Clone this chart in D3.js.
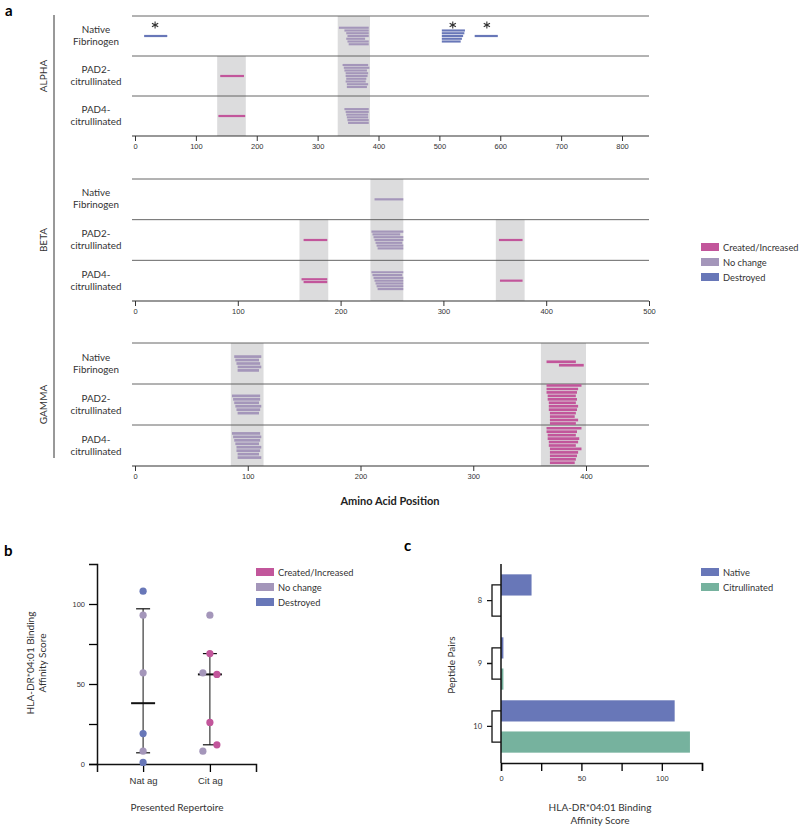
<!DOCTYPE html>
<html lang="en">
<head>
<meta charset="utf-8">
<title>Fibrinogen peptides</title>
<script src="https://d3js.org/d3.v7.min.js"></script>
<style>
  body { margin: 0; background: #fff; }
  svg { font-family: Lato, "Open Sans", sans-serif; }
  .tick text { font-size: 7.5px; fill: #333; }
</style>
</head>
<body>
<div id="chart"></div>
<script>
// ---- data ----
const statusNames = ["Created/Increased", "No change", "Destroyed"];
const statusColors = ["#c2569b", "#a496ba", "#6877b8"];
const rowLabels = [["Native", "Fibrinogen"], ["PAD2-", "citrullinated"], ["PAD4-", "citrullinated"]];

// peptides: [row, start, end, status]  status 0 created, 1 no change, 2 destroyed
const alphaTicks = [0, 100, 200, 300, 400, 500, 600, 700, 800];
const alphaBands = [[135, 182, 1], [333, 386, 0]];
const alphaStars = [33, 522, 578];
const alphaPeptides = [
  [0, 15, 53, 2],
  [0, 335, 384, 1], [0, 344, 384, 1], [0, 347, 384, 1], [0, 349, 384, 1], [0, 347, 378, 1], [0, 349, 384, 1], [0, 351, 384, 1],
  [0, 504, 542, 2], [0, 504, 541, 2], [0, 504, 539, 2], [0, 504, 537, 2], [0, 504, 535, 2],
  [0, 558, 596, 2],
  [1, 140, 179, 0],
  [1, 341, 383, 1], [1, 343, 385, 1], [1, 344, 381, 1], [1, 346, 383, 1], [1, 346, 382, 1], [1, 347, 380, 1], [1, 346, 379, 1], [1, 348, 383, 1], [1, 348, 381, 1],
  [2, 137, 181, 0],
  [2, 344, 384, 1], [2, 346, 384, 1], [2, 347, 383, 1], [2, 348, 383, 1], [2, 349, 384, 1], [2, 350, 384, 1]
];

const betaTicks = [0, 100, 200, 300, 400, 500];
const betaBands = [[160, 188, 1], [229, 261, 0], [351, 379, 1]];
const betaStars = [];
const betaPeptides = [
  [0, 233, 261, 1],
  [1, 164, 187, 0],
  [1, 230, 261, 1], [1, 231, 258, 1], [1, 232, 261, 1], [1, 233, 261, 1], [1, 234, 260, 1], [1, 235, 261, 1], [1, 236, 261, 1],
  [1, 354, 377, 0],
  [2, 162, 187, 0], [2, 164, 187, 0],
  [2, 230, 261, 1], [2, 231, 260, 1], [2, 232, 261, 1], [2, 233, 261, 1], [2, 234, 261, 1], [2, 235, 261, 1], [2, 236, 261, 1],
  [2, 355, 377, 0]
];

const gammaTicks = [0, 100, 200, 300, 400];
const gammaBands = [[85, 114, 0], [360, 400, 0]];
const gammaStars = [];
const gammaPeptides = [
  [0, 88, 112, 1], [0, 89, 110, 1], [0, 90, 111, 1], [0, 91, 112, 1], [0, 91, 110, 1],
  [0, 365, 391, 0], [0, 376, 398, 0],
  [1, 86, 111, 1], [1, 87, 111, 1], [1, 88, 110, 1], [1, 89, 112, 1], [1, 90, 111, 1], [1, 91, 110, 1],
  [1, 365, 396, 0], [1, 365, 393, 0], [1, 365, 392, 0], [1, 366, 391, 0], [1, 366, 392, 0], [1, 367, 391, 0],
  [1, 367, 393, 0], [1, 367, 392, 0], [1, 368, 391, 0], [1, 368, 390, 0], [1, 368, 393, 0], [1, 368, 391, 0],
  [2, 86, 111, 1], [2, 87, 112, 1], [2, 88, 111, 1], [2, 89, 110, 1], [2, 90, 112, 1], [2, 90, 111, 1], [2, 91, 110, 1], [2, 91, 112, 1],
  [2, 365, 396, 0], [2, 365, 392, 0], [2, 366, 391, 0], [2, 366, 394, 0], [2, 367, 393, 0], [2, 367, 391, 0],
  [2, 368, 396, 0], [2, 368, 393, 0], [2, 368, 392, 0], [2, 368, 391, 0], [2, 368, 390, 0]
];

// panel b
const bCategories = ["Nat ag", "Cit ag"];
const natValues = [108, 93, 57, 19, 8, 1];
const natStatus = [2, 1, 1, 2, 1, 2];
const citValues = [93, 69, 57, 56, 26, 8, 12];
const citStatus = [1, 0, 1, 0, 0, 1, 0];
const bMedian = [38, 56];
const bLow = [7, 12];
const bHigh = [97, 69];
const bTicks = [0, 25, 50, 75, 100];

// panel c
const cPairs = ["8", "9", "10"];
const cNative = [19, 1.5, 108];
const cCitrullinated = [0, 1.5, 117.5];
const cTicks = [0, 25, 50, 75, 100, 125];
const cSeriesNames = ["Native", "Citrullinated"];
const cSeriesColors = ["#6877b8", "#76b29e"];

// ---- drawing ----
const svg = d3.select("#chart").append("svg")
  .attr("width", 799).attr("height", 827);

svg.append("text").attr("x", 5).attr("y", 16)
  .style("font-size", "15px").style("font-weight", "bold").text("a");

const chains = [
  {name: "ALPHA", peptides: alphaPeptides, bands: alphaBands, ticks: alphaTicks, stars: alphaStars, top: 16, axisY: 136, xMax: 622, gap: 2.75},
  {name: "BETA", peptides: betaPeptides, bands: betaBands, ticks: betaTicks, stars: betaStars, top: 179, axisY: 301, xMax: 649, gap: 2.8},
  {name: "GAMMA", peptides: gammaPeptides, bands: gammaBands, ticks: gammaTicks, stars: gammaStars, top: 343, axisY: 466, xMax: 586, gap: 3.45}
];

let drawChain = (c) => {
  const g = svg.append("g");
  const x = d3.scaleLinear().domain([0, d3.max(c.ticks)]).range([135, c.xMax]);
  const rowH = (c.axisY - c.top) / 3;

  // grey bands
  g.selectAll(".band").data(c.bands).enter().append("rect")
    .attr("x", d => x(d[0]))
    .attr("width", d => x(d[1]) - x(d[0]))
    .attr("y", d => c.top + d[2] * rowH)
    .attr("height", d => c.axisY - (c.top + d[2] * rowH))
    .attr("fill", "#dcdcdd");

  // row lines
  [0, 1, 2].forEach(i => {
    g.append("line").attr("x1", 132).attr("x2", 649)
      .attr("y1", c.top + i * rowH).attr("y2", c.top + i * rowH)
      .attr("stroke", "#555").attr("stroke-width", 0.9);
  });

  // row labels
  rowLabels.forEach((lab, i) => {
    const cy = c.top + (i + 0.5) * rowH;
    g.append("text").attr("x", 96).attr("y", cy - 3).attr("text-anchor", "middle")
      .style("font-size", "9.8px").attr("fill", "#333").text(lab[0]);
    g.append("text").attr("x", 96).attr("y", cy + 9).attr("text-anchor", "middle")
      .style("font-size", "9.8px").attr("fill", "#333").text(lab[1]);
  });

  // chain label
  g.append("text")
    .attr("transform", `translate(47,${(c.top + c.axisY) / 2}) rotate(-90)`)
    .attr("text-anchor", "middle").style("font-size", "10px").attr("fill", "#333")
    .text(c.name);

  // group overlapping peptides into stacks
  const clusters = [];
  c.peptides.forEach(p => {
    let cl = clusters.find(k => k.row === p[0] && p[1] < k.end && p[2] > k.start);
    if (!cl) { cl = {row: p[0], start: p[1], end: p[2], items: []}; clusters.push(cl); }
    cl.start = Math.min(cl.start, p[1]);
    cl.end = Math.max(cl.end, p[2]);
    cl.items.push(p);
  });
  clusters.forEach(cl => {
    const cy = c.top + (cl.row + 0.5) * rowH;
    const n = cl.items.length;
    g.selectAll(null).data(cl.items).enter().append("line")
      .attr("x1", d => x(d[1])).attr("x2", d => x(d[2]))
      .attr("y1", (d, i) => cy + (i - (n - 1) / 2) * c.gap)
      .attr("y2", (d, i) => cy + (i - (n - 1) / 2) * c.gap)
      .attr("stroke", d => statusColors[d[3]])
      .attr("stroke-width", n > 1 ? c.gap * 0.78 : 2.2);
  });

  // asterisks
  g.selectAll(".star").data(c.stars).enter().append("path")
    .attr("transform", d => `translate(${x(d)},${c.top + 9})`)
    .attr("d", d3.symbol(d3.symbolAsterisk, 36))
    .attr("fill", "none").attr("stroke", "#333").attr("stroke-width", 1.1);

  // axis
  const ax = g.append("g").attr("transform", `translate(0,${c.axisY})`)
    .call(d3.axisBottom(x).tickValues(c.ticks).tickSize(5).tickPadding(3));
  ax.select(".domain").remove();
  ax.selectAll(".tick line").attr("stroke", "#333");
  g.append("line").attr("x1", 132).attr("x2", 649)
    .attr("y1", c.axisY).attr("y2", c.axisY)
    .attr("stroke", "#333").attr("stroke-width", 1.1);
};
chains.forEach(drawChain);

// left bracket line
svg.append("line").attr("x1", 54).attr("x2", 54).attr("y1", 15).attr("y2", 458)
  .attr("stroke", "#333").attr("stroke-width", 1);

svg.append("text").attr("x", 390).attr("y", 505).attr("text-anchor", "middle")
  .style("font-size", "11px").style("font-weight", "bold").attr("fill", "#222")
  .text("Amino Acid Position");

// legends
let drawLegend = (x0, y0, names, colors) => {
  names.forEach((nm, i) => {
    svg.append("rect").attr("x", x0).attr("y", y0 + i * 15 - 4)
      .attr("width", 18).attr("height", 8).attr("fill", colors[i]);
    svg.append("text").attr("x", x0 + 22).attr("y", y0 + i * 15 + 3.5)
      .style("font-size", "9.3px").attr("fill", "#333").text(nm);
  });
};
drawLegend(701, 247, statusNames, statusColors);

// ---- panel b ----
svg.append("text").attr("x", 4).attr("y", 556)
  .style("font-size", "15px").style("font-weight", "bold").text("b");

const bx = d3.scalePoint().domain(bCategories).range([97, 256]).padding(0.69);
const by = d3.scaleLinear().domain([0, 125]).range([764, 564]);

const bAxX = svg.append("g").attr("transform", "translate(0,764)")
  .call(d3.axisBottom(bx).tickSize(8).tickPadding(5));
bAxX.select(".domain").attr("stroke-width", 1.5).attr("stroke", "#111");
bAxX.selectAll(".tick line").attr("stroke-width", 1.3);
bAxX.selectAll(".tick text").style("font-size", "9.5px");

const bAxY = svg.append("g").attr("transform", "translate(97,0)")
  .call(d3.axisLeft(by).tickValues(bTicks).tickSize(8).tickPadding(4)
    .tickFormat(d => d % 50 === 0 ? d : ""));
bAxY.select(".domain").attr("stroke-width", 1.5).attr("stroke", "#111");
bAxY.selectAll(".tick line").attr("stroke-width", 1.3);
bAxY.selectAll(".tick text").style("font-size", "7.5px");

svg.append("text").attr("transform", "translate(34,663) rotate(-90)")
  .attr("text-anchor", "middle").style("font-size", "10px").attr("fill", "#333")
  .text("HLA-DR*04:01 Binding");
svg.append("text").attr("transform", "translate(46,663) rotate(-90)")
  .attr("text-anchor", "middle").style("font-size", "10px").attr("fill", "#333")
  .text("Affinity Score");
svg.append("text").attr("x", 177).attr("y", 811).attr("text-anchor", "middle")
  .style("font-size", "10px").attr("fill", "#333").text("Presented Repertoire");

// whiskers + median
bCategories.forEach((cat, i) => {
  const cx = bx(cat);
  svg.append("line").attr("x1", cx).attr("x2", cx)
    .attr("y1", by(bLow[i])).attr("y2", by(bHigh[i])).attr("stroke", "#111").attr("stroke-width", 1);
  [bLow[i], bHigh[i]].forEach(v => {
    svg.append("line").attr("x1", cx - 7).attr("x2", cx + 7)
      .attr("y1", by(v)).attr("y2", by(v)).attr("stroke", "#111").attr("stroke-width", 1.2);
  });
  svg.append("line").attr("x1", cx - 12).attr("x2", cx + 12)
    .attr("y1", by(bMedian[i])).attr("y2", by(bMedian[i])).attr("stroke", "#111").attr("stroke-width", 2);
});

// points, dodged when they overlap
let drawPoints = (cat, vals, stats) => {
  const placed = [];
  vals.forEach((v, i) => {
    const p = {v: v, s: stats[i], dx: 0};
    const hit = placed.find(q => Math.abs(by(q.v) - by(v)) < 7);
    if (hit) { hit.dx = -7; p.dx = 7; }
    placed.push(p);
  });
  svg.selectAll(null).data(placed).enter().append("circle")
    .attr("cx", d => bx(cat) + d.dx).attr("cy", d => by(d.v)).attr("r", 3.6)
    .attr("fill", d => statusColors[d.s]);
};
drawPoints("Nat ag", natValues, natStatus);
drawPoints("Cit ag", citValues, citStatus);

drawLegend(256, 572, statusNames, statusColors);

// ---- panel c ----
svg.append("text").attr("x", 404).attr("y", 551)
  .style("font-size", "15px").style("font-weight", "bold").text("c");

const cx = d3.scaleLinear().domain([0, 125]).range([501, 702]);
const cy = d3.scaleBand().domain(cPairs).range([564, 763]).paddingOuter(0.08);
const cSub = d3.scaleBand().domain(cSeriesNames).range([0, cy.bandwidth()])
  .paddingInner(0.32).paddingOuter(0.17);

const cRows = cPairs.map((p, i) => ({pair: p, vals: [cNative[i], cCitrullinated[i]]}));
cRows.forEach(r => {
  svg.selectAll(null).data(r.vals).enter().append("rect")
    .attr("x", cx(0))
    .attr("y", (d, j) => cy(r.pair) + cSub(cSeriesNames[j]))
    .attr("width", d => cx(d) - cx(0))
    .attr("height", cSub.bandwidth())
    .attr("fill", (d, j) => cSeriesColors[j]);
  // bracket joining the pair
  const yTop = cy(r.pair) + cSub(cSeriesNames[0]) + cSub.bandwidth() / 2;
  const yBot = cy(r.pair) + cSub(cSeriesNames[1]) + cSub.bandwidth() / 2;
  const ym = (yTop + yBot) / 2;
  svg.append("path")
    .attr("d", `M501,${yTop}H492V${yBot}H501M492,${ym}H487`)
    .attr("fill", "none").attr("stroke", "#111").attr("stroke-width", 1.3);
  svg.append("text").attr("x", 482).attr("y", ym + 2.5).attr("text-anchor", "end")
    .style("font-size", "7.5px").attr("fill", "#333").text(r.pair);
});

const cAxX = svg.append("g").attr("transform", "translate(0,763)")
  .call(d3.axisBottom(cx).tickValues(cTicks).tickSize(8).tickPadding(5)
    .tickFormat(d => d % 50 === 0 ? d : ""));
cAxX.select(".domain").attr("stroke-width", 1.5).attr("stroke", "#111");
cAxX.selectAll(".tick line").attr("stroke-width", 1.3);
cAxX.selectAll(".tick text").style("font-size", "7.5px");
svg.append("line").attr("x1", 501).attr("x2", 501).attr("y1", 564).attr("y2", 763)
  .attr("stroke", "#111").attr("stroke-width", 1.5);

svg.append("text").attr("transform", "translate(455,665) rotate(-90)")
  .attr("text-anchor", "middle").style("font-size", "10px").attr("fill", "#333")
  .text("Peptide Pairs");
svg.append("text").attr("x", 600).attr("y", 811).attr("text-anchor", "middle")
  .style("font-size", "10px").attr("fill", "#333").text("HLA-DR*04:01 Binding");
svg.append("text").attr("x", 600).attr("y", 824).attr("text-anchor", "middle")
  .style("font-size", "10px").attr("fill", "#333").text("Affinity Score");

drawLegend(701, 572, cSeriesNames, cSeriesColors);
</script>
</body>
</html>
